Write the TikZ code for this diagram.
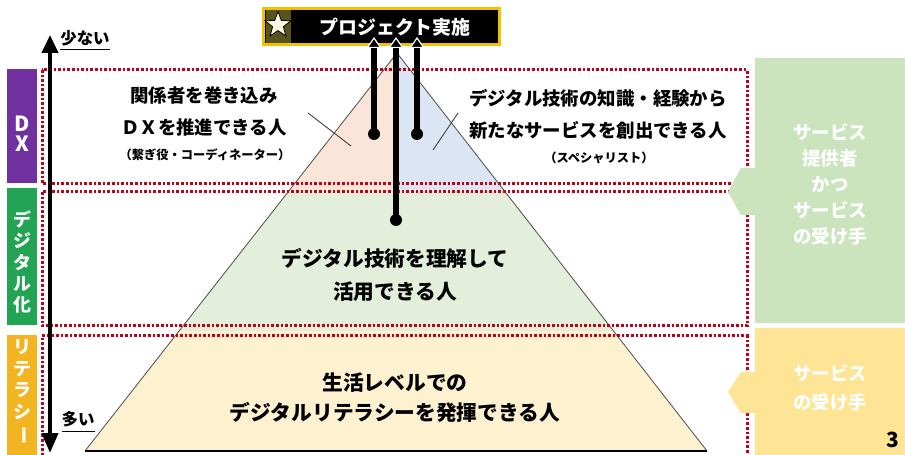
\documentclass[tikz,border=0pt]{standalone}
\usepackage{fontspec}
\newfontfamily\jp{Noto Sans CJK JP}
\usetikzlibrary{arrows.meta,shapes.geometric}
\definecolor{dred}{HTML}{C00018}
\definecolor{dxpurple}{HTML}{7030A0}
\definecolor{dgreen}{HTML}{22A454}
\definecolor{lgold}{HTML}{F2B420}
\definecolor{pk}{HTML}{FBE4D8}
\definecolor{lb}{HTML}{DCE5F4}
\definecolor{lg}{HTML}{E3EFDB}
\definecolor{ly}{HTML}{FDF1CF}
\definecolor{pgreen}{HTML}{CBE4BD}
\definecolor{pyellow}{HTML}{FDE595}
\definecolor{bannery}{HTML}{F2C200}
\definecolor{olive}{HTML}{57531C}
\definecolor{starfill}{HTML}{FFF8E0}
\begin{document}
\begin{tikzpicture}[x=1bp,y=-1bp,
  dotbox/.style={draw=dred, line width=3bp, dash pattern=on 2.6bp off 2.0bp},
  bigtxt/.style={font=\jp\bfseries\fontsize{18.5}{33}\selectfont, align=center, text=black, inner sep=0pt},
  midtxt/.style={font=\jp\bfseries\fontsize{20.8}{34}\selectfont, align=center, text=black, inner sep=0pt},
  smalltxt/.style={font=\jp\bfseries\fontsize{12.3}{14}\selectfont, align=center, text=black, inner sep=0pt},
  paneltxt/.style={font=\jp\bfseries\fontsize{18.5}{26}\selectfont, align=center, text=white, inner sep=0pt},
  bartxt/.style={font=\jp\bfseries\fontsize{18}{21.5}\selectfont, align=center, text=white, inner sep=0pt},
  bar/.style={minimum width=30bp, inner sep=0pt, draw=none},
  dotnode/.style={circle, fill=black, minimum size=12bp, inner sep=0pt},
  uparr/.style={line width=5.5bp, -{Triangle[width=15bp,length=11bp,fill=black,color=white,line width=1.2bp]}},
  leader/.style={draw=black!75, line width=0.9bp},
  underl/.style={draw=black, line width=1bp}
]
\useasboundingbox (0,0) rectangle (905,455);
\fill[white] (0,0) rectangle (905,455);

% pyramid
\coordinate (A) at (397,53);
\coordinate (BL) at (85,451);
\coordinate (BR) at (707,451);
\begin{scope}
\clip (A) -- (BL) -- (BR) -- cycle;
\fill[pk] (0,0) rectangle (397,190);
\fill[lb] (397,0) rectangle (905,190);
\fill[lg] (0,190) rectangle (905,331);
\fill[ly] (0,331) rectangle (905,455);
\end{scope}
\draw[draw=black!70, line width=0.8bp] (BL) -- (A) -- (BR);
\draw[draw=black, line width=1.3bp] (BL) -- (BR);

% dotted boxes
\draw[dotbox] (42,70) rectangle (747,184);
\draw[dotbox] (42,192) rectangle (747,326);
\draw[dotbox] (42,460) -- (42,336) -- (747,336) -- (747,460);

% right panels
\fill[pgreen] (755,58) -- (905,58) -- (905,323) -- (755,323) -- (755,215) -- (741,215) -- (728,192) -- (741,168) -- (755,168) -- cycle;
\fill[pyellow] (755,328) -- (905,328) -- (905,455) -- (755,455) -- (755,413) -- (741,413) -- (728,392) -- (741,372) -- (755,372) -- cycle;
\node[paneltxt] (pg) at (830,184.5) {サービス\\提供者\\かつ\\サービス\\の受け手};
\node[paneltxt, font=\jp\bfseries\fontsize{18.5}{29}\selectfont] (py) at (830,387.5) {サービス\\の受け手};
\node[font=\jp\bfseries\fontsize{21}{22}\selectfont, inner sep=0pt] (pnum) at (893,440) {3};

% left bars
\node[bar, fill=dxpurple, minimum height=114bp] (bdx) at (22,126) {};
\node[bar, fill=dgreen, minimum height=137bp] (bdg) at (22,256.5) {};
\node[bar, fill=lgold, minimum height=120bp] (blt) at (22,395) {};
\node[bartxt, font=\jp\bfseries\fontsize{21}{20}\selectfont] (tdx) at (22,134) {D\\X};
\node[bartxt] (tdg) at (22,262) {デ\\ジ\\タ\\ル\\化};
\node[bartxt] (tlt) at (22,392) {リ\\テ\\ラ\\シ\\\rotatebox[origin=c]{-90}{ー}};

% vertical double arrow
\coordinate (vtop) at (50,35);
\coordinate (vbot) at (50,453);
\draw[line width=4bp, {Triangle[width=16bp,length=18bp]}-{Triangle[width=16bp,length=20bp]}] (vtop) -- (vbot);
\node[font=\jp\bfseries\fontsize{16.5}{18}\selectfont, inner sep=0pt] (few) at (85,38) {少ない};
\draw[underl] (60,50) -- (110,50);
\node[font=\jp\bfseries\fontsize{16.5}{18}\selectfont, inner sep=0pt] (many) at (78,419) {多い};
\draw[underl] (62,431) -- (95,431);

% texts
\node[bigtxt] (tl) at (204,111.5) {関係者を巻き込み\\ＤＸを推進できる人};
\node[smalltxt] (tls) at (205,155) {（繋ぎ役・コーディネーター）};
\node[bigtxt, font=\jp\bfseries\fontsize{18.5}{32}\selectfont] (tr) at (598,114) {デジタル技術の知識・経験から\\新たなサービスを創出できる人};
\node[smalltxt] (trs) at (599,158) {（スペシャリスト）};
\node[midtxt] (tm) at (395,275) {デジタル技術を理解して\\活用できる人};
\node[midtxt, font=\jp\bfseries\fontsize{20.8}{30}\selectfont] (tb) at (395,398) {生活レベルでの\\デジタルリテラシーを発揮できる人};

% leader lines
\coordinate (l1a) at (308,113);
\coordinate (l1b) at (351,146);
\coordinate (l2a) at (433,150);
\coordinate (l2b) at (458,113);
\draw[leader] (l1a) -- (l1b);
\draw[leader] (l2a) -- (l2b);

% banner
\node[fill=black, draw=bannery, line width=2.5bp, minimum width=236bp, minimum height=36bp, inner sep=0pt] (banner) at (381.5,26.5) {};
\fill[olive] (266,10) rectangle (291,43);
\node[star, star points=5, star point ratio=2.4, fill=starfill, draw=black, line width=0.8bp, minimum size=27bp, inner sep=0pt] (star) at (278,25) {};
\node[font=\jp\bfseries\fontsize{19}{20}\selectfont, text=white, inner sep=0pt] (title) at (395,27) {プロジェクト実施};

% arrows to banner
\node[dotnode] (d1) at (374,134) {};
\node[dotnode] (d2) at (396,220) {};
\node[dotnode] (d3) at (417,134) {};
\coordinate (e1) at (374,37);
\coordinate (e2) at (396,37);
\coordinate (e3) at (417,37);
\draw[uparr] (d1.center) -- (e1);
\draw[uparr] (d2.center) -- (e2);
\draw[uparr] (d3.center) -- (e3);
\end{tikzpicture}
\end{document}
